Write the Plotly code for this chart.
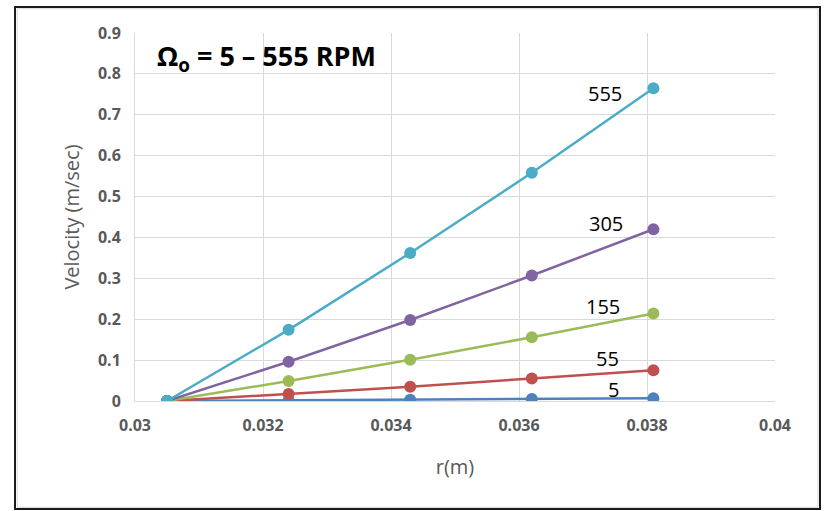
import plotly.graph_objects as go

# radial positions (m)
r = [0.0305, 0.0324, 0.0343, 0.0362, 0.0381]

# velocity profiles (m/sec) for each rotation speed (RPM)
rpm_labels = ["5", "55", "155", "305", "555"]
v_5 = [0.0, 0.0015, 0.003, 0.005, 0.007]
v_55 = [0.0, 0.017, 0.035, 0.055, 0.075]
v_155 = [0.0, 0.049, 0.101, 0.156, 0.214]
v_305 = [0.0, 0.096, 0.198, 0.307, 0.420]
v_555 = [0.0, 0.174, 0.362, 0.558, 0.765]

series = [v_5, v_55, v_155, v_305, v_555]
colors = ["#4F81BD", "#C0504D", "#9BBB59", "#8064A2", "#4BACC6"]
# label centre offsets (data units) relative to the last point of each curve
label_dx = [-0.00063, -0.00071, -0.00079, -0.00074, -0.00076]
label_dy = [0.022, 0.028, 0.016, 0.015, -0.012]

fig = go.Figure()
for name, v, c in zip(rpm_labels, series, colors):
    fig.add_trace(go.Scatter(
        x=r, y=v, mode="lines+markers", name=name,
        line=dict(color=c, width=2.5),
        marker=dict(color=c, size=12),
    ))

annotations = []
for name, v, dx, dy in zip(rpm_labels, series, label_dx, label_dy):
    annotations.append(dict(
        x=r[-1] + dx, y=v[-1] + dy, xref="x", yref="y",
        text=name, showarrow=False, xanchor="center", yanchor="middle",
        font=dict(family="Open Sans, sans-serif", size=20, color="#000000"),
    ))
annotations.append(dict(
    x=0.03206, y=0.841, xref="x", yref="y",
    text="<b>Ω<sub>o</sub> = 5 – 555 RPM</b>", showarrow=False,
    xanchor="center", yanchor="middle",
    font=dict(family="Open Sans, sans-serif", size=27, color="#000000"),
))

fig.update_layout(
    width=824, height=511,
    margin=dict(l=135, r=49, t=33, b=110),
    paper_bgcolor="#FFFFFF", plot_bgcolor="#FFFFFF",
    showlegend=False,
    annotations=annotations,
    shapes=[
        dict(
            type="rect", xref="paper", yref="paper",
            x0=-0.1875, x1=1.0703, y0=-0.2935, y1=1.0707,
            line=dict(color="#1A1A1A", width=2), fillcolor="rgba(0,0,0,0)",
            layer="below",
        ),
        dict(
            type="rect", xref="paper", yref="paper",
            x0=-0.184, x1=1.067, y0=-0.289, y1=1.066,
            line=dict(color="#D9D9D9", width=1), fillcolor="rgba(0,0,0,0)",
            layer="below",
        ),
    ],
    font=dict(family="Open Sans, sans-serif"),
)
tick_font = dict(size=16, color="#595959", family="Open Sans, sans-serif", weight="bold")
fig.update_xaxes(
    range=[0.03, 0.04], dtick=0.002,
    showgrid=True, gridcolor="#D9D9D9", gridwidth=1,
    zeroline=False, showline=True, linecolor="#D9D9D9",
    ticks="", tickfont=tick_font,
    title=dict(text="r(m)", font=dict(size=20, color="#595959"), standoff=24),
    ticklabelstandoff=10,
)
fig.update_yaxes(
    range=[0, 0.9], dtick=0.1,
    showgrid=True, gridcolor="#D9D9D9", gridwidth=1,
    zeroline=False, showline=True, linecolor="#D9D9D9",
    ticks="", tickfont=tick_font,
    title=dict(text="Velocity (m/sec)", font=dict(size=20, color="#595959"), standoff=12),
    ticklabelstandoff=10,
)

fig.write_html("out.html")
